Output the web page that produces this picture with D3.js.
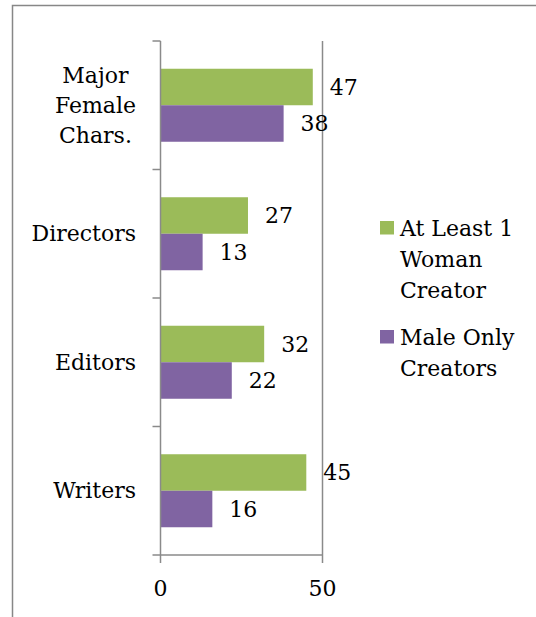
<!DOCTYPE html>
<html><head><meta charset="utf-8">
<script src="https://cdn.jsdelivr.net/npm/d3@7"></script>
<style>body{margin:0;background:#fff}svg{display:block}text{font-family:"DejaVu Serif",serif;fill:#000}</style>
</head><body><svg id="c" width="536" height="617"></svg>
<script>
const categories = ["Major Female Chars.", "Directors", "Editors", "Writers"];
const categoryLines = [["Major","Female","Chars."],["Directors"],["Editors"],["Writers"]];
const seriesNames = ["At Least 1 Woman Creator", "Male Only Creators"];
const legendLines = [["At Least 1","Woman","Creator"],["Male Only","Creators"]];
const womanCreator = [47, 27, 32, 45];
const maleOnly = [38, 13, 22, 16];
const xTicks = [0, 50];
const colors = ["#9BBB59", "#8064A2"];

const svg = d3.select("#c");
const font = 22;
svg.append("rect").attr("x",12.5).attr("y",5.5).attr("width",540).attr("height",620)
  .attr("fill","none").attr("stroke","#878787").attr("stroke-width",1.5);

const x = d3.scaleLinear().domain([0,50]).range([160.5,322.5]);
const y = d3.scaleBand().domain(categories).range([41,555]);
const ys = d3.scaleBand().domain(seriesNames).range([0,y.bandwidth()]).paddingOuter(0.76).paddingInner(0);
const values = [womanCreator, maleOnly];

const axisColor = "#8a8a8a";
svg.append("line").attr("x1",x(50)).attr("x2",x(50)).attr("y1",41).attr("y2",563)
  .attr("stroke",axisColor).attr("stroke-width",1.5);

seriesNames.forEach((s,si)=>{
  const g = svg.append("g");
  g.selectAll("rect").data(categories).join("rect")
    .attr("x",x(0)).attr("y",c=>y(c)+ys(s))
    .attr("width",(c,i)=>x(values[si][i])-x(0)).attr("height",ys.bandwidth())
    .attr("fill",colors[si]);
  g.selectAll("text").data(categories).join("text")
    .attr("x",(c,i)=>x(values[si][i])+17).attr("y",c=>y(c)+ys(s)+ys.bandwidth()/2)
    .attr("dy","0.35em").attr("font-size",font)
    .text((c,i)=>values[si][i]);
});

svg.append("line").attr("x1",x(0)).attr("x2",x(0)).attr("y1",41).attr("y2",563).attr("stroke",axisColor).attr("stroke-width",1.5);
const bounds = categories.map(c=>y(c)).concat([y.range()[1]]);
svg.selectAll(".yt").data(bounds).join("line").attr("x1",x(0)-8).attr("x2",x(0))
  .attr("y1",d=>d).attr("y2",d=>d).attr("stroke",axisColor).attr("stroke-width",1.5);
svg.append("line").attr("x1",x(0)).attr("x2",x(50)).attr("y1",555).attr("y2",555).attr("stroke",axisColor).attr("stroke-width",1.5);
svg.selectAll(".xt").data(xTicks).join("text").attr("x",d=>x(d)).attr("y",588).attr("dy","0.35em")
  .attr("text-anchor","middle").attr("font-size",font).text(d=>d);

categories.forEach((c,i)=>{
  const lines = categoryLines[i];
  const cy = y(c)+y.bandwidth()/2;
  const lh = 30;
  const t = svg.append("text").attr("text-anchor","middle").attr("font-size",font);
  const spans = lines.map((l,j)=> t.append("tspan").attr("y",cy+(j-(lines.length-1)/2)*lh).attr("dy","0.35em").text(l));
  const maxW = d3.max(spans, s=>s.node().getComputedTextLength());
  spans.forEach(s=>s.attr("x",136-maxW/2));
});

const legY = [228, 337];
seriesNames.forEach((s,si)=>{
  svg.append("rect").attr("x",380).attr("y",legY[si]-7).attr("width",14).attr("height",13.5).attr("fill",colors[si]);
  const t = svg.append("text").attr("font-size",font);
  legendLines[si].forEach((l,j)=>{
    t.append("tspan").attr("x",400).attr("y",legY[si]+j*31).attr("dy","0.35em").text(l);
  });
});
</script></body></html>
